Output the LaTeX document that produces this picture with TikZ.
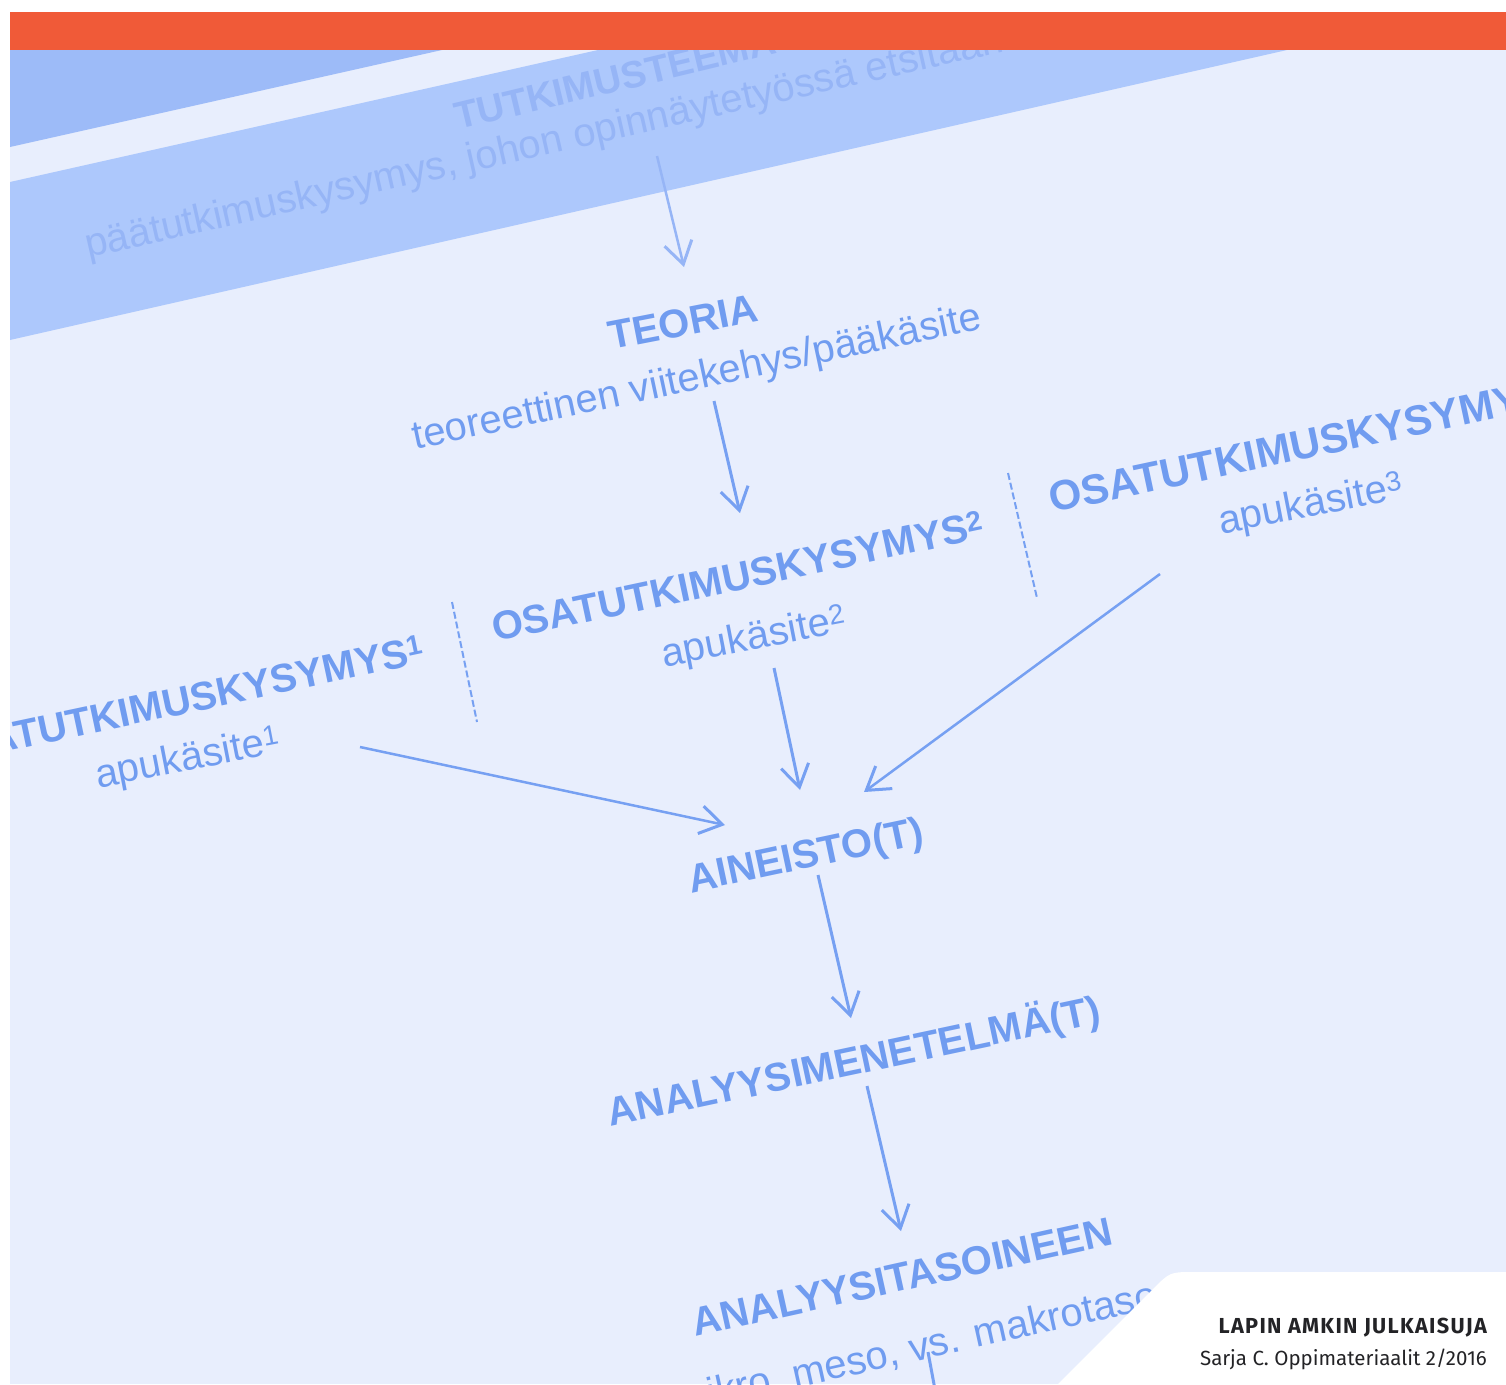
\documentclass[tikz,border=0pt]{standalone}
\usepackage{fontspec}
\newfontfamily\arialf{Liberation Sans}
\newfontfamily\firaf{Fira Sans}
\newfontfamily\firasp[LetterSpace=6]{Fira Sans}
\usetikzlibrary{arrows.meta}
\definecolor{orangebar}{RGB}{240,90,56}
\definecolor{bgblue}{RGB}{232,238,253}
\definecolor{bandblue}{RGB}{173,200,252}
\definecolor{darkband}{RGB}{157,187,248}
\definecolor{txtblue}{RGB}{112,156,240}
\definecolor{fadeblue}{RGB}{150,181,246}
\definecolor{arrblue}{RGB}{118,160,242}
\definecolor{pubtext}{RGB}{35,35,38}
\tikzset{
  capslbl/.style={font=\arialf\bfseries\fontsize{40}{44}\selectfont, text=txtblue, inner sep=0pt},
  smalllbl/.style={font=\arialf\fontsize{40}{44}\selectfont, text=txtblue, inner sep=0pt},
  bandcaps/.style={font=\arialf\bfseries\fontsize{38}{42}\selectfont, text=fadeblue, inner sep=0pt},
  bandsmall/.style={font=\arialf\fontsize{40}{44}\selectfont, text=fadeblue, inner sep=0pt},
  flowarrow/.style={draw=arrblue, line width=3pt, -{Straight Barb[length=22pt,width=28pt,line width=3pt]}},
  plainline/.style={draw=arrblue, line width=3pt},
  sepline/.style={draw=arrblue, line width=2pt, dash pattern=on 7pt off 3pt},
  pubbold/.style={font=\firasp\bfseries\fontsize{21.7}{24}\selectfont, text=pubtext, inner sep=0pt},
  pubreg/.style={font=\firaf\fontsize{20.5}{24}\selectfont, text=pubtext, inner sep=0pt}
}
\begin{document}
\begin{tikzpicture}[x=1pt,y=-1pt]
\useasboundingbox (0,0) rectangle (1506,1384);
\fill[white] (0,0) rectangle (1506,1384);
\fill[orangebar] (10,12) rectangle (1506,50);
\begin{scope}
  \clip (10,50) rectangle (1506,1384);
  \fill[bgblue] (10,50) rectangle (1506,1384);
  \fill[darkband] (10,50) -- (442,50) -- (10,147) -- cycle;
  \fill[bandblue] (598,50) -- (1287,50) -- (10,340) -- (10,182) -- cycle;
  % band texts
  \node[bandcaps, anchor=base west, rotate=13.5] (teema) at (458,130) {TUTKIMUSTEEMA};
  \node[bandsmall, anchor=base west, rotate=12.7] (paakys) at (88,258) {päätutkimuskysymys, johon opinnäytetyössä etsitään};
  % main texts
  \node[capslbl, rotate=11] (teoria) at (683,322) {TEORIA};
  \node[smalllbl, rotate=12] (viite) at (697,379) {teoreettinen viitekehys/pääkäsite};
  \node[capslbl, rotate=12] (osa1) at (178,701) {OSATUTKIMUSKYSYMYS\textsuperscript{1}};
  \node[smalllbl, rotate=11] (apu1) at (188,760) {apukäsite\textsuperscript{1}};
  \node[capslbl, rotate=12] (osa2) at (738,576) {OSATUTKIMUSKYSYMYS\textsuperscript{2}};
  \node[smalllbl, rotate=11] (apu2) at (754,639) {apukäsite\textsuperscript{2}};
  \node[capslbl, anchor=base west, rotate=12, font=\arialf\bfseries\fontsize{42}{46}\selectfont] (osa3) at (1052,513) {OSATUTKIMUSKYSYMYS\textsuperscript{3}};
  \node[smalllbl, rotate=11] (apu3) at (1311,506) {apukäsite\textsuperscript{3}};
  \node[capslbl, rotate=12] (aineisto) at (806,858) {AINEISTO(T)};
  \node[capslbl, rotate=12] (menetelma) at (854,1062) {ANALYYSIMENETELMÄ(T)};
  \node[capslbl, rotate=12.5] (tasot) at (902,1277) {ANALYYSITASOINEEN};
  \node[smalllbl, rotate=12.5] (taso) at (916,1349) {mikro, meso, vs. makrotaso};
  % arrow end points
  \coordinate (a1s) at (657,156);  \coordinate (a1e) at (684,267);
  \coordinate (a2s) at (714,401);  \coordinate (a2e) at (740,513);
  \coordinate (a3s) at (774,668);  \coordinate (a3e) at (800,790);
  \coordinate (a4s) at (360,747);  \coordinate (a4e) at (725,825);
  \coordinate (a5s) at (1160,574); \coordinate (a5e) at (864,792);
  \coordinate (a6s) at (818,875);  \coordinate (a6e) at (851,1018);
  \coordinate (a7s) at (867,1086); \coordinate (a7e) at (901,1231);
  \coordinate (a8s) at (928,1352); \coordinate (a8e) at (936,1395);
  \coordinate (s1a) at (452,602);  \coordinate (s1b) at (477,722);
  \coordinate (s2a) at (1008,473); \coordinate (s2b) at (1037,598);
  \draw[flowarrow, draw=fadeblue, line width=2.5pt] (a1s) -- (a1e);
  \draw[flowarrow] (a2s) -- (a2e);
  \draw[flowarrow] (a3s) -- (a3e);
  \draw[flowarrow, line width=2.5pt] (a4s) -- (a4e);
  \draw[flowarrow, line width=2.5pt] (a5s) -- (a5e);
  \draw[flowarrow] (a6s) -- (a6e);
  \draw[flowarrow] (a7s) -- (a7e);
  \draw[plainline] (a8s) -- (a8e);
  \draw[sepline] (s1a) -- (s1b);
  \draw[sepline] (s2a) -- (s2b);
\end{scope}
% publication panel
\fill[white] (1506,1272) -- (1194,1272) .. controls (1170,1272) .. (1153,1289) -- (1058,1384) -- (1506,1384) -- cycle;
\node[pubbold, anchor=base east] (pub1) at (1487,1333) {LAPIN AMKIN JULKAISUJA};
\node[pubreg, anchor=base east] (pub2) at (1487,1365) {Sarja C. Oppimateriaalit 2/2016};
\end{tikzpicture}
\end{document}
